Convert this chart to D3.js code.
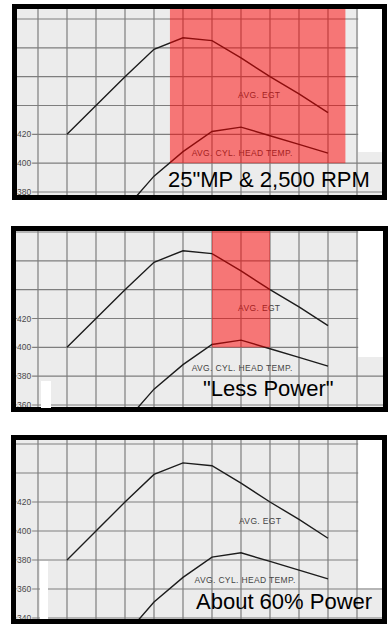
<!DOCTYPE html>
<html>
<head>
<meta charset="utf-8">
<script src="https://cdn.jsdelivr.net/npm/d3@7"></script>
<style>
  body { margin: 0; background: #fff; }
  svg { display: block; font-family: "Liberation Sans", Arial, sans-serif; }
</style>
</head>
<body>
<div id="chart"></div>
<script>
// leaning steps along the (unlabelled) x axis of the graph paper
var egtSteps = [1, 2, 3, 4, 5, 6, 7, 8, 9, 10];
var chtSteps = [3, 4, 5, 6, 7, 8, 9, 10];

// 25"MP & 2,500 RPM
var egt25 = [420, 440, 460, 479, 487, 485, 473, 460, 448, 435];
var cht25 = [368, 391, 408, 422, 425, 419, 413, 407];
// "Less Power"
var egtLess = [400, 420, 440, 459, 467, 465, 453, 440, 428, 415];
var chtLess = [348, 371, 388, 402, 405, 399, 393, 387];
// About 60% Power
var egt60 = [380, 400, 420, 439, 447, 445, 433, 420, 408, 395];
var cht60 = [328, 351, 368, 382, 385, 379, 373, 367];

var ticks25 = [420, 400, 380];
var ticksLess = [420, 400, 380, 360];
var ticks60 = [420, 400, 380, 360, 340];

// highlighted band: [from step, to step, down to value]
var band25 = [4.55, 10.6, 400];
var bandLess = [6, 8, 400];

var titles = ['25"MP & 2,500 RPM', '"Less Power"', 'About 60% Power'];

var width = 391, height = 627;

var svg = d3.select('#chart')
  .append('svg')
  .attr('width', width)
  .attr('height', height);

var x = d3.scaleLinear().domain([0, 11]).range([38, 357]);

var panels = [
  { box: [12, 4, 375, 196], yDom: [380, 500], yRng: [192, 19], egt: egt25, cht: cht25,
    ticks: ticks25, band: band25, whiteTo: 152, title: titles[0], tx: 168, ty: 187,
    egtLab: [6.9, 445], chtLab: [5.3, 404.7] },
  { box: [11, 226, 377, 186], yDom: [360, 480], yRng: [405, 232], egt: egtLess, cht: chtLess,
    ticks: ticksLess, band: bandLess, whiteTo: 357, title: titles[1], tx: 203, ty: 396,
    egtLab: [6.9, 425], chtLab: [5.3, 383.4] },
  { box: [11, 435, 376, 189], yDom: [340, 460], yRng: [618, 444], egt: egt60, cht: cht60,
    ticks: ticks60, band: null, whiteTo: 588, title: titles[2], tx: 196, ty: 609,
    egtLab: [6.93, 404.8], chtLab: [5.4, 364.1] }
];

panels.forEach(function(p, i) {
  var bw = 5;
  var ix = p.box[0] + bw / 2, iy = p.box[1] + bw / 2;
  var iw = p.box[2] - bw, ih = p.box[3] - bw;
  var y = d3.scaleLinear().domain(p.yDom).range(p.yRng);

  var clipId = 'clip' + i;
  svg.append('clipPath').attr('id', clipId)
    .append('rect').attr('x', ix).attr('y', iy).attr('width', iw).attr('height', ih);

  var g = svg.append('g').attr('clip-path', 'url(#' + clipId + ')');

  // paper
  g.append('rect')
    .attr('x', ix).attr('y', iy).attr('width', iw).attr('height', ih)
    .attr('fill', '#ececec');

  // grid
  g.selectAll('.vg')
    .data(d3.range(0, 13))
    .join('line')
      .attr('x1', d => x(d)).attr('x2', d => x(d))
      .attr('y1', iy).attr('y2', iy + ih)
      .attr('stroke', '#7e7e7e').attr('stroke-width', 1.2);

  g.selectAll('.hg')
    .data(d3.range(p.yDom[0], p.yDom[1] + 1, 20))
    .join('line')
      .attr('x1', ix).attr('x2', ix + iw)
      .attr('y1', d => y(d)).attr('y2', d => y(d))
      .attr('stroke', '#7e7e7e').attr('stroke-width', 1.2);

  // blank strip at the right edge of the scan
  g.append('rect')
    .attr('x', x(11) + 1.2).attr('y', iy)
    .attr('width', ix + iw - x(11)).attr('height', p.whiteTo - iy)
    .attr('fill', '#fff');

  // tick labels (sit on a small white-ish gap before the grid)
  g.selectAll('.tl')
    .data(p.ticks)
    .join('text')
      .attr('x', 17)
      .attr('y', d => y(d) + 3)
      .attr('font-size', 8.5)
      .attr('fill', '#4a4a4a')
      .attr('stroke', '#ececec').attr('stroke-width', 2).attr('paint-order', 'stroke')
      .text(d => d);

  var line = d3.line().x(d => x(d[0])).y(d => y(d[1]));

  g.append('path')
    .datum(egtSteps.map((s, k) => [s, p.egt[k]]))
    .attr('d', line)
    .attr('fill', 'none').attr('stroke', '#1c1c1c').attr('stroke-width', 1.4);

  g.append('path')
    .datum(chtSteps.map((s, k) => [s, p.cht[k]]))
    .attr('d', line)
    .attr('fill', 'none').attr('stroke', '#1c1c1c').attr('stroke-width', 1.4);

  g.append('text')
    .attr('x', x(p.egtLab[0])).attr('y', y(p.egtLab[1]))
    .attr('font-size', 8.5).attr('letter-spacing', 0.35)
    .attr('fill', '#444')
    .text('AVG. EGT');

  g.append('text')
    .attr('x', x(p.chtLab[0])).attr('y', y(p.chtLab[1]))
    .attr('font-size', 8.5).attr('letter-spacing', 0.35)
    .attr('fill', '#444')
    .text('AVG. CYL. HEAD TEMP.');

  if (p.band) {
    g.append('rect')
      .attr('x', x(p.band[0]))
      .attr('y', iy)
      .attr('width', x(p.band[1]) - x(p.band[0]))
      .attr('height', y(p.band[2]) - iy)
      .attr('fill', '#ff0000')
      .attr('opacity', 0.5);
  }

  g.append('text')
    .attr('x', p.tx).attr('y', p.ty)
    .attr('font-size', 22)
    .attr('fill', '#000')
    .text(p.title);

  svg.append('rect')
    .attr('x', ix).attr('y', iy).attr('width', iw).attr('height', ih)
    .attr('fill', 'none').attr('stroke', '#000').attr('stroke-width', bw);
});

// small white patches from the scan
svg.append('rect').attr('x', 41).attr('y', 381).attr('width', 10).attr('height', 27).attr('fill', '#fff');
svg.append('rect').attr('x', 40).attr('y', 561).attr('width', 8).attr('height', 58).attr('fill', '#fff');
</script>
</body>
</html>
